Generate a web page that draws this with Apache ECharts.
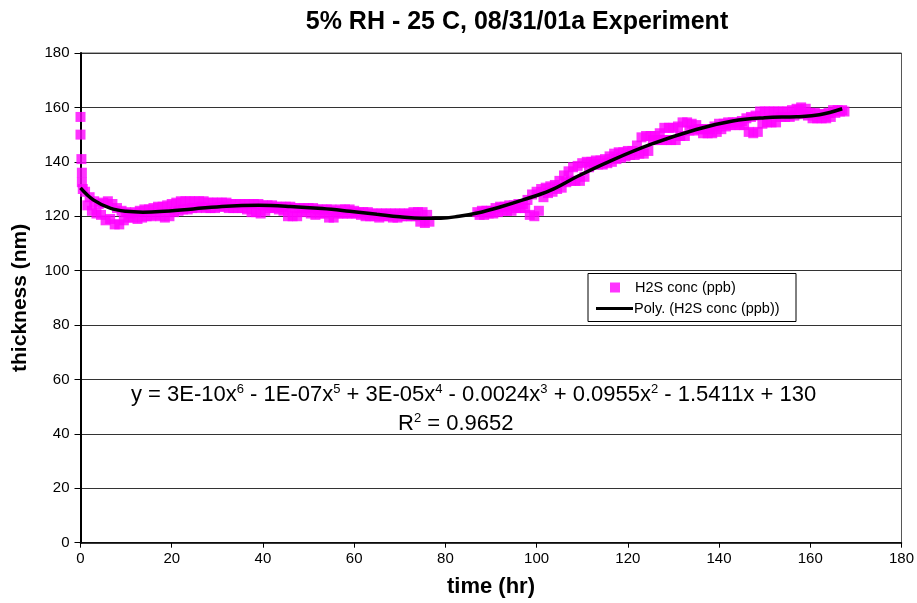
<!DOCTYPE html>
<html>
<head>
<meta charset="utf-8">
<script src="https://cdn.jsdelivr.net/npm/echarts@6/dist/echarts.min.js"></script>
<style>
html,body{margin:0;padding:0;background:#fff;}
#chart{width:917px;height:603px;}
</style>
</head>
<body>
<div id="chart"></div>
<script>
// ---- data ----
// start-up readings at t ~ 0
var startTimes = [0, 0, 0.2, 0.3, 0.3, 0.5];
var startVals  = [156.5, 150, 141, 136, 132.5, 130];

// hourly readings (upper and lower edge of the noisy band)
var timeHr = [1,2,3,4,5,6,7,8,9,10,11,12,13,14,15,16,17,18,19,20,21,22,23,24,25,26,27,28,29,30,
  31,32,33,34,35,36,37,38,39,40,41,42,43,44,45,46,47,48,49,50,51,52,53,54,55,56,57,58,59,60,
  61,62,63,64,65,66,67,68,69,70,71,72,73,74,75,76,
  87,88,89,90,91,92,93,94,95,96,97,98,99,100,101,102,103,104,105,106,107,108,109,110,
  111,112,113,114,115,116,117,118,119,120,121,122,123,124,125,126,127,128,129,130,
  131,132,133,134,135,136,137,138,139,140,141,142,143,144,145,146,147,148,149,150,
  151,152,153,154,155,156,157,158,159,160,161,162,163,164,165,166,167];
var bandHigh = [129,127,125.5,124.5,125,125.5,124.5,123,122,121.5,121,121.5,122,122.5,122.5,123,123.5,123.5,124,124.5,125,125.5,125.5,125.5,125.5,125.5,125.5,125,125,125,
  125,125,124.5,124.5,124.5,124.5,124.5,124.5,124.5,124,124,124,123.5,123.5,123.5,123.5,123,123,123,123,123,122.5,122.5,122.5,122.5,122,122.5,122.5,122.5,122,
  121.5,121.5,121.5,121,121,121,121,121,121,121,121,121,121.5,121.5,121.5,120.5,
  121.5,122,122,122,123,123.5,123.5,124,124,124.5,124.5,126,128,129,130,130.5,131,131.5,133,135,136.5,138,138.5,139.5,
  140,140,140.5,140.5,141,142,143,143.5,143.5,144,144,146,149,149.5,149.5,149.5,150.5,152.5,152.5,152.5,
  153,154.5,154.5,154,153.5,152,152,152,153,154,154,154.5,154.5,154.5,155,156,156.5,157,158.5,158.5,
  158.5,158.5,158.5,158.5,158.5,159,159.5,160,159.5,158,158,157.5,157.5,158,159,159,159];
var bandLow = [124,122,121,120.5,118.5,119,117,117,118.5,119.5,119.5,119,119.5,120,120,120.5,120,119.5,120,121.5,122,122.5,122.5,123,123,123.5,123,123,123,123.5,
  123.5,123,123,123,123,122.5,121.5,121.5,121,122,123,123,122.5,122,120,120,120,121.5,122,121,120.5,121,121,119.5,119.5,121,121,121,121,121,
  120.5,120,120,120,119.5,120,120,119.5,119.5,120,120,120,120,118,117.5,118,
  120.5,120.5,121,121,121.5,122,122,122,123,123,123,120.5,120,122,127,128.5,129,130,130.5,132.5,133,133,133,134.5,
  138,139,139,139,139.5,140,141,141.5,142,142.5,142.5,143,143,144,148,148,148,148,148,148,
  149.5,149.5,151.5,151.5,152,150.5,150.5,150.5,151,152,153,153.5,153.5,153.5,153.5,151,150.5,151,154,154.5,
  154.5,154.5,156.5,156.5,156.5,157,159,157.5,157,156,156,156,156,156.5,158,158.5,158.5];

// polynomial trend line
var trendTimes = [0,2.8,6.5,10,13.7,17.4,24.7,32,39,46,53,59,65,70,75,79,83,87,92,97,103,109,116,125,135,143,150,157,162,167];
var trendVals  = [130.4,126,123,121.8,121.5,121.7,122.7,123.7,124,123.6,122.8,121.8,120.7,119.8,119.3,119.3,120,121.2,123.4,126,129.5,134.7,140.2,146.4,151.9,155,156.2,156.6,157.3,159.5];

var xTicks = [0,20,40,60,80,100,120,140,160,180];
var yTicks = [0,20,40,60,80,100,120,140,160,180];

// ---- build series ----
var scatterData = [];
for (var i = 0; i < startTimes.length; i++) scatterData.push([startTimes[i], startVals[i]]);
for (var j = 0; j < timeHr.length; j++) {
  scatterData.push([timeHr[j], bandHigh[j]]);
  scatterData.push([timeHr[j] + 0.5, bandLow[j]]);
}
var trendData = trendTimes.map(function (t, k) { return [t, trendVals[k]]; });

var FONT = '"Liberation Sans", Arial, sans-serif';
var chart = echarts.init(document.getElementById('chart'), null, {renderer: 'canvas'});
chart.setOption({
  animation: false,
  backgroundColor: '#ffffff',
  title: {
    text: '5% RH - 25 C, 08/31/01a Experiment',
    left: 512, top: 5, textAlign: 'center',
    textStyle: {fontFamily: FONT, fontSize: 25, fontWeight: 'bold', color: '#000'}
  },
  grid: {left: 80.5, right: 12, top: 53, bottom: 60.3, show: true, borderColor: '#555', borderWidth: 1, backgroundColor: 'transparent'},
  xAxis: {
    type: 'value', min: 0, max: 180, interval: 20,
    name: 'time (hr)', nameLocation: 'middle', nameGap: 33,
    nameTextStyle: {fontFamily: FONT, fontSize: 22, fontWeight: 'bold', color: '#000'},
    axisLine: {show: true, onZero: false, lineStyle: {color: '#000', width: 1.5}},
    axisTick: {show: true, length: 5, lineStyle: {color: '#000'}},
    axisLabel: {fontFamily: FONT, fontSize: 15, color: '#000', margin: 9,
      formatter: function (v) { return xTicks.indexOf(v) >= 0 ? String(v) : ''; }},
    splitLine: {show: false}
  },
  yAxis: {
    type: 'value', min: 0, max: 180, interval: 20,
    name: 'thickness (nm)', nameLocation: 'middle', nameGap: 50, nameRotate: 90,
    nameTextStyle: {fontFamily: FONT, fontSize: 21, fontWeight: 'bold', color: '#000'},
    axisLine: {show: true, onZero: false, lineStyle: {color: '#000', width: 2}},
    axisTick: {show: true, length: 6, lineStyle: {color: '#000'}},
    axisLabel: {fontFamily: FONT, fontSize: 15, color: '#000', margin: 11,
      formatter: function (v) { return yTicks.indexOf(v) >= 0 ? String(v) : ''; }},
    splitLine: {show: true, lineStyle: {color: '#333', width: 1}}
  },
  legend: [
    {
      z: 100,
      data: [{name: 'H2S conc (ppb)', icon: 'rect'}], orient: 'vertical', left: 605, top: 275,
      itemWidth: 10, itemHeight: 10,
      textStyle: {fontFamily: FONT, fontSize: 14.5, color: '#000', padding: [0, 0, 0, 10]}
    },
    {
      z: 100,
      data: [{name: 'Poly. (H2S conc (ppb))', icon: 'rect'}], orient: 'vertical', left: 591, top: 296,
      itemWidth: 37, itemHeight: 3,
      textStyle: {fontFamily: FONT, fontSize: 14.5, color: '#000', padding: [0, 0, 0, -4]}
    }
  ],
  graphic: {
    z: 5,
    elements: [
      {type: 'rect', left: 587.5, top: 273, z: 5, shape: {width: 208, height: 48}, style: {fill: '#fff', stroke: '#000', lineWidth: 1}},
      {
        type: 'text', left: 131, top: 383, z: 10,
        style: {
          text: 'y = 3E-10x{s|6} - 1E-07x{s|5} + 3E-05x{s|4} - 0.0024x{s|3} + 0.0955x{s|2} - 1.5411x + 130',
          font: '22px ' + FONT, fill: '#000',
          rich: {s: {fontSize: 13, fontFamily: FONT, verticalAlign: 'top', padding: [0, 0, 11, 0], fill: '#000'}}
        }
      },
      {
        type: 'text', left: 398, top: 412, z: 10,
        style: {
          text: 'R{s|2} = 0.9652',
          font: '22px ' + FONT, fill: '#000',
          rich: {s: {fontSize: 13, fontFamily: FONT, verticalAlign: 'top', padding: [0, 0, 11, 0], fill: '#000'}}
        }
      }
    ]
  },
  series: [
    {
      name: 'H2S conc (ppb)', type: 'scatter', symbol: 'rect', symbolSize: 10,
      itemStyle: {color: '#FF00FF'}, data: scatterData, z: 2
    },
    {
      name: 'Poly. (H2S conc (ppb))', type: 'line', smooth: 0.4, symbol: 'none',
      lineStyle: {color: '#000', width: 3.5}, itemStyle: {color: '#000'},
      data: trendData, z: 3
    }
  ]
});
</script>
</body>
</html>
